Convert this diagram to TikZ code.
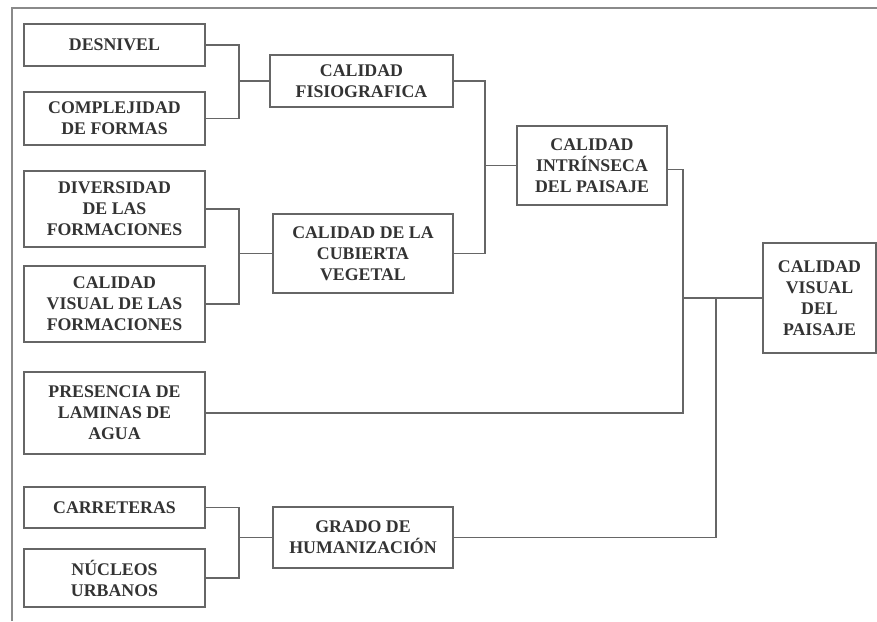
\documentclass[tikz,border=0pt]{standalone}
\usepackage{fontspec}
\setmainfont{Liberation Serif}
\begin{document}
\begin{tikzpicture}[x=1pt,y=-1pt,
  box/.style={draw=boxgray,line width=1.5pt,inner sep=0pt,align=center,
    font=\fontsize{17.8}{21}\selectfont\bfseries,text=textgray},
  conn/.style={draw=linegray,line width=1.5pt}]
\definecolor{boxgray}{HTML}{666666}
\definecolor{linegray}{HTML}{666666}
\definecolor{textgray}{HTML}{333333}
\definecolor{framegray}{HTML}{8A8A8A}
\useasboundingbox (0,0) rectangle (877,621);
\draw[framegray,line width=1.8pt] (12,621) -- (12,8) -- (877,8);
% left column
\node[box,minimum width=181pt,minimum height=42pt] (des) at (114.5,45) {DESNIVEL};
\node[box,minimum width=181pt,minimum height=53pt] (com) at (114.5,118.5) {COMPLEJIDAD\\DE FORMAS};
\node[box,minimum width=181pt,minimum height=76pt] (div) at (114.5,209) {DIVERSIDAD\\DE LAS\\FORMACIONES};
\node[box,minimum width=181pt,minimum height=76pt] (cvf) at (114.5,304) {CALIDAD\\VISUAL DE LAS\\FORMACIONES};
\node[box,minimum width=181pt,minimum height=82pt] (pre) at (114.5,413) {PRESENCIA DE\\LAMINAS DE\\AGUA};
\node[box,minimum width=181pt,minimum height=41pt] (car) at (114.5,507.5) {CARRETERAS};
\node[box,minimum width=181pt,minimum height=58pt] (nuc) at (114.5,578) {NÚCLEOS\\URBANOS};
% second column
\node[box,minimum width=183pt,minimum height=52pt] (fis) at (361.5,81) {CALIDAD\\FISIOGRAFICA};
\node[box,minimum width=180pt,minimum height=79pt] (cub) at (363,253.5) {CALIDAD DE LA\\CUBIERTA\\VEGETAL};
\node[box,minimum width=180pt,minimum height=61pt] (gra) at (363,537.5) {GRADO DE\\HUMANIZACIÓN};
% third
\node[box,minimum width=150pt,minimum height=79pt] (int) at (592,165.5) {CALIDAD\\INTRÍNSECA\\DEL PAISAJE};
\node[box,minimum width=113pt,minimum height=110pt] (vis) at (819.5,298) {CALIDAD\\VISUAL\\DEL\\PAISAJE};
% bracket coordinates
\coordinate (b1) at (239,0);
\coordinate (b2) at (485,0);
\coordinate (b3) at (683,0);
\coordinate (b4) at (716,0);
% connectors
\draw[conn] (des.east) -| (b1 |- com.east) -- (com.east);
\draw[conn] (fis.west) -- (fis.west -| b1);
\draw[conn] (div.east) -| (b1 |- cvf.east) -- (cvf.east);
\draw[conn] (cub.west) -- (cub.west -| b1);
\draw[conn] (car.east) -| (b1 |- nuc.east) -- (nuc.east);
\draw[conn] (gra.west) -- (gra.west -| b1);
\draw[conn] (fis.east) -| (b2 |- cub.east) -- (cub.east);
\draw[conn] (int.west) -- (int.west -| b2);
\draw[conn] ([yshift=-4pt]int.east) -| (b3 |- pre.east) -- (pre.east);
\draw[conn] (vis.west) -- (vis.west -| b3);
\draw[conn] (vis.west -| b4) |- (gra.east);
\end{tikzpicture}
\end{document}
